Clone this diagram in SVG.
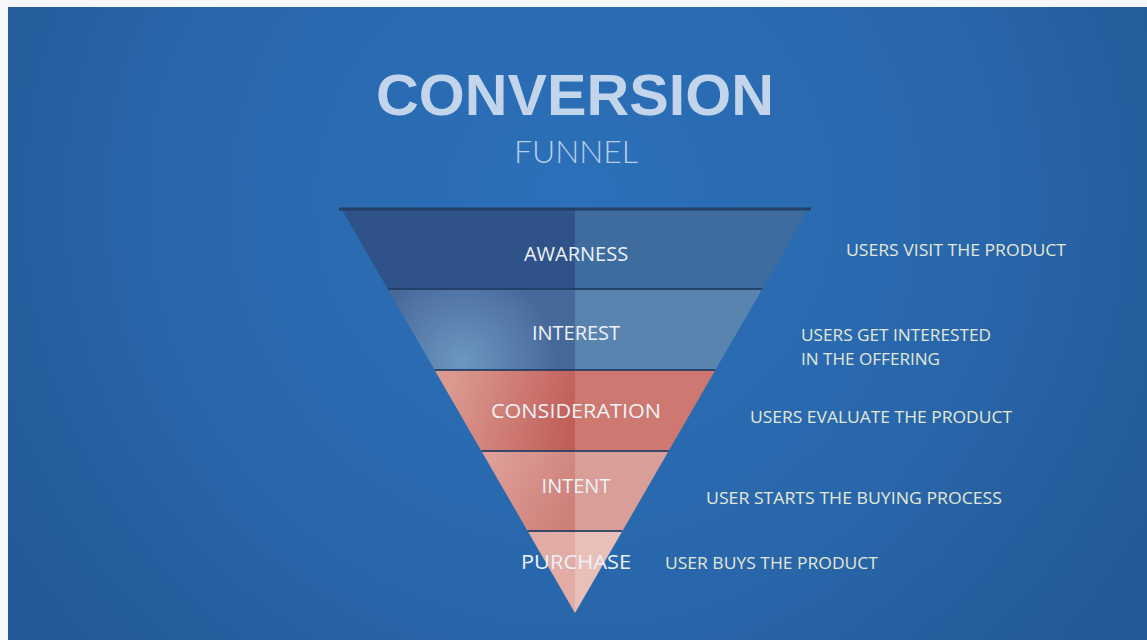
<svg xmlns="http://www.w3.org/2000/svg" width="1147" height="640" viewBox="0 0 1147 640">
<defs>
<radialGradient id="bg" cx="575" cy="200" r="650" gradientUnits="userSpaceOnUse">
<stop offset="0" stop-color="#2b70b9"/>
<stop offset="0.6" stop-color="#2967ac"/>
<stop offset="1" stop-color="#245a97"/>
</radialGradient>
<radialGradient id="intL" cx="462" cy="362" r="95" gradientUnits="userSpaceOnUse">
<stop offset="0" stop-color="#6b98c0"/>
<stop offset="0.5" stop-color="#5a80ae"/>
<stop offset="1" stop-color="#47699a"/>
</radialGradient>
<linearGradient id="conL" x1="450" y1="390" x2="575" y2="420" gradientUnits="userSpaceOnUse">
<stop offset="0" stop-color="#db9990"/>
<stop offset="1" stop-color="#c05e58"/>
</linearGradient>
<linearGradient id="intentL" x1="490" y1="460" x2="575" y2="510" gradientUnits="userSpaceOnUse">
<stop offset="0" stop-color="#dd9f98"/>
<stop offset="1" stop-color="#cd7f78"/>
</linearGradient>
<style>
.div{stroke:#1f3c63;stroke-width:2;opacity:0.85}
.lab{font-family:"Open Sans","Liberation Sans",sans-serif;font-size:20px;fill:#eef2f7;text-anchor:middle}
.desc{font-family:"Open Sans","Liberation Sans",sans-serif;font-size:17px;fill:#e3e8d6}
</style>
</defs>
<rect x="0" y="0" width="1147" height="640" fill="#f6f7f8"/>
<rect x="8" y="7" width="1139" height="633" fill="url(#bg)"/>

<g id="title">
<text x="575" y="115" font-family="'Liberation Sans',sans-serif" font-weight="900" font-size="57" fill="#c3d5ea" text-anchor="middle" textLength="398" lengthAdjust="spacingAndGlyphs">CONVERSION</text>
<text x="576" y="163" font-family="Lato,'Open Sans',sans-serif" font-weight="300" font-size="32" fill="#b9cde6" text-anchor="middle" textLength="124" lengthAdjust="spacingAndGlyphs">FUNNEL</text>
</g>

<g id="awareness">
<polygon points="341,208 575,208 575,289 387.8,289" fill="#2f5289"/>
<polygon points="575,208 809,208 762.2,289 575,289" fill="#3e6c9f"/>
<line x1="339" y1="209" x2="811" y2="209" stroke="#1f3c63" stroke-width="3" opacity="0.9"/>
<text class="lab" x="576" y="261">AWARNESS</text>
<text class="desc" x="846" y="256" textLength="220" lengthAdjust="spacingAndGlyphs">USERS VISIT THE PRODUCT</text>
</g>

<g id="interest">
<polygon points="387.8,289 575,289 575,370 434.6,370" fill="url(#intL)"/>
<polygon points="575,289 762.2,289 715.4,370 575,370" fill="#5a84b0"/>
<line class="div" x1="387.8" y1="289" x2="762.2" y2="289"/>
<text class="lab" x="576" y="340">INTEREST</text>
<text class="desc" x="801" y="341" textLength="190" lengthAdjust="spacingAndGlyphs">USERS GET INTERESTED</text>
<text class="desc" x="801" y="365" textLength="139" lengthAdjust="spacingAndGlyphs">IN THE OFFERING</text>
</g>

<g id="consideration">
<polygon points="434.6,370 575,370 575,451 481.4,451" fill="url(#conL)"/>
<polygon points="575,370 715.4,370 668.6,451 575,451" fill="#cd7870"/>
<line class="div" x1="434.6" y1="370" x2="715.4" y2="370"/>
<text class="lab" x="576" y="418" textLength="170" lengthAdjust="spacingAndGlyphs">CONSIDERATION</text>
<text class="desc" x="750" y="423" textLength="262" lengthAdjust="spacingAndGlyphs">USERS EVALUATE THE PRODUCT</text>
</g>

<g id="intent">
<polygon points="481.4,451 575,451 575,531 527.6,531" fill="url(#intentL)"/>
<polygon points="575,451 668.6,451 622.4,531 575,531" fill="#da9e98"/>
<line class="div" x1="481.4" y1="451" x2="668.6" y2="451"/>
<text class="lab" x="576" y="493">INTENT</text>
<text class="desc" x="706" y="504" textLength="296" lengthAdjust="spacingAndGlyphs">USER STARTS THE BUYING PROCESS</text>
</g>

<g id="purchase">
<polygon points="527.6,531 575,531 575,613" fill="#e1aca6"/>
<polygon points="575,531 622.4,531 575,613" fill="#e9bfba"/>
<line class="div" x1="527.6" y1="531" x2="622.4" y2="531"/>
<text class="lab" x="576" y="569" textLength="110" lengthAdjust="spacingAndGlyphs">PURCHASE</text>
<text class="desc" x="665" y="569" textLength="213" lengthAdjust="spacingAndGlyphs">USER BUYS THE PRODUCT</text>
</g>

<g id="connectors"/>
</svg>
